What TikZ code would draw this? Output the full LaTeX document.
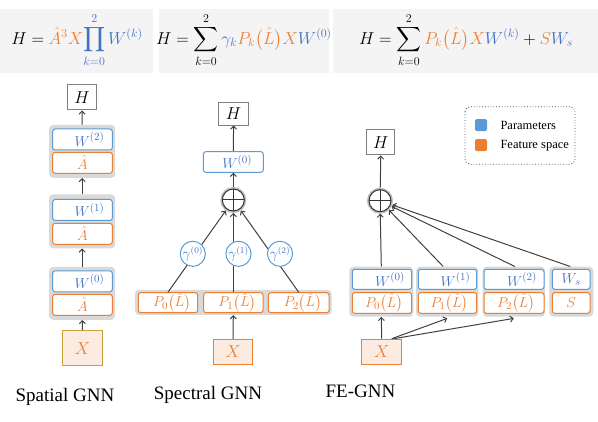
\documentclass[tikz,border=0pt]{standalone}
\usepackage{exscale}
\usepackage{fontspec}
\setmainfont{Liberation Serif}
\usetikzlibrary{arrows.meta}
\definecolor{pblue}{HTML}{5B9BD5}
\definecolor{tblue}{HTML}{4472C4}
\definecolor{forange}{HTML}{ED7D31}
\definecolor{ggray}{HTML}{D9D9D9}
\definecolor{xfill}{HTML}{FBEBE1}
\definecolor{gold}{HTML}{C9A03A}
\definecolor{topgray}{HTML}{F4F4F4}
\definecolor{arrcol}{HTML}{404040}
\begin{document}
\begin{tikzpicture}[x=1pt,y=-1pt,
  grp/.style={fill=ggray,draw=none,rounded corners=4pt,inner sep=0pt},
  pbox/.style={draw=pblue,fill=white,line width=1pt,rounded corners=2.5pt,inner sep=0pt,text=tblue,font=\fontsize{15}{17}\selectfont},
  fbox/.style={draw=forange,fill=white,line width=1pt,rounded corners=2.5pt,inner sep=0pt,text=forange,font=\fontsize{15}{17}\selectfont},
  hbox/.style={draw=black!50,fill=white,line width=1pt,inner sep=0pt,minimum width=29,minimum height=25,font=\fontsize{17}{19}\selectfont},
  xbox/.style={draw=forange,fill=xfill,line width=1pt,inner sep=0pt,text=forange,font=\fontsize{17}{19}\selectfont},
  oplus/.style={circle,draw=black!80,fill=white,line width=1pt,minimum size=22,inner sep=0pt,outer sep=2pt,
    preaction={draw=black!25,line width=4pt},
    path picture={\draw[line width=1pt,black!80] (path picture bounding box.north) -- (path picture bounding box.south) (path picture bounding box.west) -- (path picture bounding box.east);}},
  gcirc/.style={circle,draw=pblue,fill=white,line width=1pt,minimum size=21,inner sep=0pt,text=tblue,font=\fontsize{13.5}{15}\selectfont},
  arr/.style={draw=arrcol,line width=1pt,-{Straight Barb[length=3pt,width=6pt]}},
  lbl/.style={font=\fontsize{19}{22}\selectfont,anchor=base},
  legtext/.style={font=\fontsize{12.5}{14}\selectfont,anchor=west},
  formula/.style={font=\fontsize{18}{20}\selectfont}
]
\useasboundingbox (0,0) rectangle (598,422);

% formula boxes
\fill[topgray] (0,9) rectangle (153,73);
\fill[topgray] (159,9) rectangle (329,73);
\fill[topgray] (333,9) rectangle (598,73);
\node[formula] (f1) at (77,40) {$\displaystyle H=\textcolor{forange}{\hat{A}^3X}\textcolor{tblue}{\prod_{k=0}^{2}W^{(k)}}$};
\node[formula] (f2) at (244,40) {$\displaystyle H=\sum_{k=0}^{2}\textcolor{tblue}{\gamma_k}\textcolor{forange}{P_k\bigl(\hat{L}\bigr)X}\textcolor{tblue}{W^{(0)}}$};
\node[formula] (f3) at (466,40) {$\displaystyle H=\sum_{k=0}^{2}\textcolor{forange}{P_k\bigl(\hat{L}\bigr)X}\textcolor{tblue}{W^{(k)}}+\textcolor{forange}{S}\textcolor{tblue}{W_s}$};

% ---------------- Spatial GNN ----------------
\node[hbox] (sH) at (82,97.5) {$H$};
\node[grp,minimum width=66,minimum height=53] (sg1) at (82.2,151.3) {};
\node[pbox,minimum width=59.6,minimum height=21] (sw2) at (82.5,139.5) {\hspace{14pt}$W^{(2)}$};
\node[fbox,minimum width=59.6,minimum height=21] (sa2) at (82.5,162.8) {$\hat{A}$};
\node[grp,minimum width=66,minimum height=54] (sg2) at (82.2,221.3) {};
\node[pbox,minimum width=59.6,minimum height=21] (sw1) at (82.5,210) {\hspace{14pt}$W^{(1)}$};
\node[fbox,minimum width=59.6,minimum height=21] (sa1) at (82.5,233.8) {$\hat{A}$};
\node[grp,minimum width=66,minimum height=53] (sg3) at (82.2,293.3) {};
\node[pbox,minimum width=59.6,minimum height=21] (sw0) at (82.5,281.3) {\hspace{14pt}$W^{(0)}$};
\node[fbox,minimum width=59.6,minimum height=21] (sa0) at (82.5,304.8) {$\hat{A}$};
\node[xbox,draw=gold,minimum width=39.6,minimum height=35] (sX) at (82.5,348.2) {$X$};
\draw[arr] (sg1.north) -- (sH.south);
\draw[arr] (sg2.north) -- (sg1.south);
\draw[arr] (sg3.north) -- (sg2.south);
\draw[arr] (sX.north) -- (sg3.south);

% ---------------- Spectral GNN ----------------
\node[hbox,minimum width=29.5,minimum height=22.5] (cH) at (233.6,113.8) {$H$};
\node[pbox,minimum width=60,minimum height=20.6] (cW) at (233.3,162) {\hspace{8pt}$W^{(0)}$};
\node[oplus] (cp) at (233.3,200) {};
\node[grp,minimum width=196.7,minimum height=25] (cg) at (233.3,302.5) {};
\node[fbox,minimum width=59.4,minimum height=20] (cP0) at (168,302.7) {\hspace{8pt}$P_0\bigl(\hat{L}\bigr)$};
\node[fbox,minimum width=59.4,minimum height=20] (cP1) at (233.3,302.7) {\hspace{8pt}$P_1\bigl(\hat{L}\bigr)$};
\node[fbox,minimum width=60.7,minimum height=20] (cP2) at (298.7,302.7) {\hspace{8pt}$P_2\bigl(\hat{L}\bigr)$};
\node[xbox,minimum width=39.4,minimum height=25] (cX) at (233,351.8) {$X$};
\draw[arr] (cW.north) -- (cH.south);
\draw[arr] (cp) -- (cW.south);
\draw[arr] (cP0.north) -- (cp);
\draw[arr] (cP1.north) -- (cp);
\draw[arr] (cP2.north) -- (cp);
\draw[arr] (cX.north) -- (cg.south);
\node[gcirc] (cg0) at (192.8,253.8) {$\gamma^{(0)}$};
\node[gcirc] (cg1) at (238.5,253.8) {$\gamma^{(1)}$};
\node[gcirc] (cg2) at (280,253.8) {$\gamma^{(2)}$};

% ---------------- FE-GNN ----------------
\node[hbox,minimum width=28.3] (fH) at (380.8,142.5) {$H$};
\node[oplus] (fp) at (380,200.7) {};
\node[grp,minimum width=64,minimum height=50] (fg0) at (381.3,291.7) {};
\node[grp,minimum width=62.3,minimum height=50] (fg1) at (447.2,291.7) {};
\node[grp,minimum width=62.3,minimum height=50] (fg2) at (513.8,291.7) {};
\node[grp,minimum width=44,minimum height=50] (fg3) at (571.3,291.7) {};
\node[pbox,minimum width=59.4,minimum height=20] (fW0) at (382,279.3) {\hspace{16pt}$W^{(0)}$};
\node[fbox,minimum width=59.4,minimum height=20.6] (fP0) at (382,303) {\hspace{4pt}$P_0\bigl(\hat{L}\bigr)$};
\node[pbox,minimum width=58.4,minimum height=20] (fW1) at (447.5,279.3) {\hspace{16pt}$W^{(1)}$};
\node[fbox,minimum width=58.4,minimum height=20.6] (fP1) at (447.5,303) {\hspace{4pt}$P_1\bigl(\hat{L}\bigr)$};
\node[pbox,minimum width=60,minimum height=20] (fW2) at (514,279.3) {\hspace{16pt}$W^{(2)}$};
\node[fbox,minimum width=60,minimum height=20.6] (fP2) at (514,303) {\hspace{4pt}$P_2\bigl(\hat{L}\bigr)$};
\node[pbox,minimum width=37.7,minimum height=20] (fWs) at (571.2,279.3) {$W_s$};
\node[fbox,minimum width=37.7,minimum height=20.6] (fS) at (571.2,303) {$S$};
\node[xbox,minimum width=40,minimum height=25] (fX) at (381.7,351.7) {$X$};
\draw[arr] (fp) -- (fH.south);
\draw[arr] (fg0.north) -- (fp);
\draw[arr] ([xshift=-4pt]fg1.north) -- (fp);
\draw[arr] ([xshift=1pt]fg2.north) -- (fp);
\draw[arr] ([xshift=-1pt]fg3.north) -- (fp);
\draw[arr] (fX.north) -- (fg0.south);
\draw[arr] ([xshift=10pt]fX.north) -- ([yshift=-1.5pt]fg1.south);
\draw[arr] ([xshift=12pt]fX.north) -- ([yshift=-1.5pt]fg2.south);

% ---------------- Legend ----------------
\draw[black!70,line width=0.8pt,dotted,rounded corners=5pt] (465,106.7) rectangle (575,164.3);
\node[fill=pblue,rounded corners=1.5pt,minimum size=12,inner sep=0pt] (lb) at (481,125.2) {};
\node[fill=forange,rounded corners=1.5pt,minimum size=12,inner sep=0pt] (lo) at (481,145.2) {};
\node[legtext] (lbt) at (497,125.5) {Parameters};
\node[legtext] (lot) at (497,145.5) {Feature space};

% ---------------- Labels ----------------
\node[lbl] (l1) at (65,401.7) {Spatial GNN};
\node[lbl] (l2) at (208,400) {Spectral GNN};
\node[lbl] (l3) at (360.5,398) {FE-GNN};
\end{tikzpicture}
\end{document}
